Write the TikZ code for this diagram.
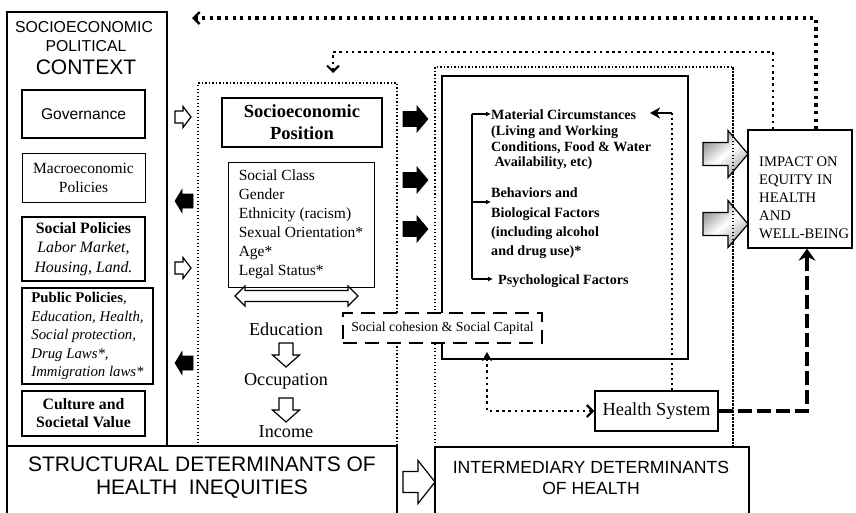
\documentclass[tikz,border=0pt]{standalone}
\usepackage{fontspec}
\setmainfont{Liberation Serif}
\setsansfont{Liberation Sans}
\usetikzlibrary{arrows.meta}

% font size helper
\newcommand\fsz[2]{\fontsize{#1}{#2}\selectfont}
% horizontal block arrow: style, tail x, y, neck x, tip x, half body, half head
\newcommand\blockH[7]{\draw[#1] (#2,#3-#6) -- (#4,#3-#6) -- (#4,#3-#7) -- (#5,#3) -- (#4,#3+#7) -- (#4,#3+#6) -- (#2,#3+#6) -- cycle;}
% vertical block arrow: style, x, tail y, neck y, tip y, half body, half head
\newcommand\blockV[7]{\draw[#1] (#2-#6,#3) -- (#2-#6,#4) -- (#2-#7,#4) -- (#2,#5) -- (#2+#7,#4) -- (#2+#6,#4) -- (#2+#6,#3) -- cycle;}

\begin{document}
\begin{tikzpicture}[x=1pt,y=-1pt,
  every node/.style={inner sep=0pt},
  thinbox/.style={draw,line width=1pt},
  medbox/.style={draw,line width=1.3pt},
  thickbox/.style={draw,line width=1.8pt},
  thindot/.style={draw,line width=1.3pt,dash pattern=on 1.3pt off 2.2pt},
  middot/.style={line width=2.6pt,dash pattern=on 2.6pt off 3.6pt},
  bigdot/.style={line width=3.2pt,dash pattern=on 3.2pt off 4.4pt},
  heavydash/.style={line width=3.6pt,dash pattern=on 14pt off 5pt},
  openarr/.style={draw,fill=white,line width=1.2pt,line join=miter},
  solidarr/.style={draw,fill=black,line width=0.6pt,line join=miter},
  grayarr/.style={draw,line width=1.2pt,line join=miter,top color=gray!85,bottom color=gray!70,middle color=white,shading angle=40},
  serif/.style={font=\fsz{15.5}{19}},
]
\useasboundingbox (0,0) rectangle (856,512);

% ---------- structural side ----------
\node[medbox,minimum width=160pt,minimum height=434pt] (ctx) at (87,229) {};
\node[font=\sffamily\fsz{15.8}{19}] (ctxa) at (84,27) {SOCIOECONOMIC};
\node[font=\sffamily\fsz{15.8}{19}] (ctxb) at (86,46) {POLITICAL};
\node[font=\sffamily\fsz{21}{23}] (ctxc) at (86,67) {CONTEXT};

\node[thickbox,minimum width=123pt,minimum height=48pt,font=\sffamily\fsz{15.6}{19}] (gov) at (83.5,114) {Governance};
\node[thinbox,minimum width=123pt,minimum height=49pt,align=center,serif] (macro) at (83.5,177.5) {Macroeconomic\\Policies};
\node[thickbox,minimum width=123pt,minimum height=64pt,align=center,font=\fsz{15.8}{19.5}] (socpol) at (83.5,249) {\textbf{Social Policies}\\\textit{Labor Market,}\\\textit{Housing, Land.}};
\node[medbox,minimum width=131pt,minimum height=96pt,align=left,font=\fsz{14.8}{18.5}] (pubpol) at (87.5,336) {\textbf{Public Policies},\\\textit{Education, Health,}\\\textit{Social protection,}\\\textit{Drug Laws*,}\\\textit{Immigration laws*}};
\node[medbox,minimum width=123pt,minimum height=45pt,align=center,font=\bfseries\fsz{15.8}{18}] (culture) at (83.5,413.5) {Culture and\\Societal Value};

% socioeconomic position column
\node[thindot,minimum width=199pt,minimum height=363pt] (posarea) at (297.5,264.5) {};
\node[thickbox,minimum width=160pt,minimum height=49pt,align=center,font=\bfseries\fsz{18.5}{22}] (sep) at (302,122.5) {Socioeconomic\\Position};
\node[thinbox,minimum width=146pt,minimum height=125pt,align=left,serif] (cls) at (301,224.5) {Social Class\\Gender\\Ethnicity (racism)\\Sexual Orientation*\\Age*\\Legal Status*};
\draw[openarr] (235,296) -- (245,286) -- (245,290.5) -- (348,290.5) -- (348,286) -- (358,296) -- (348,306) -- (348,301.5) -- (245,301.5) -- (245,306) -- cycle;
\node[font=\fsz{18.2}{20}] (edu) at (286,329) {Education};
\node[font=\fsz{18.2}{20}] (occ) at (286,381) {Occupation};
\node[font=\fsz{18.2}{20}] (inc) at (286,432) {Income};
\blockV{openarr}{286}{343}{355}{367}{7}{13.5}
\blockV{openarr}{286}{398}{410}{422}{7}{13.5}

\node[draw,line width=1.6pt,minimum width=390pt,minimum height=70pt] (struct) at (202,481) {};
\node[align=center,font=\sffamily\fsz{21}{23}] (structtxt) at (202,478) {STRUCTURAL DETERMINANTS OF\\HEALTH\ \ INEQUITIES};

% arrows between context and position
\blockH{openarr}{175}{117}{183}{191}{6}{10.5}
\blockH{solidarr}{193}{201}{182}{175}{7}{11.5}
\blockH{openarr}{175}{268}{183}{191}{6}{10.5}
\blockH{solidarr}{193}{363}{182}{175}{7}{11.5}

% ---------- intermediary side ----------
\node[thindot,minimum width=298pt,minimum height=380pt] (midarea) at (584,257) {};
\node[draw,line width=1.5pt,minimum width=246pt,minimum height=283pt] (matbox) at (565,217.5) {};

\node[anchor=north west,align=left,font=\bfseries\fsz{14.1}{15.8}] (mat) at (491,109.5) {Material Circumstances\\(Living and Working\\Conditions, Food \& Water\\\ Availability, etc)};
\node[anchor=north west,align=left,font=\bfseries\fsz{14.1}{19.2}] (beh) at (491,188) {Behaviors and\\Biological Factors\\(including alcohol\\and drug use)*};
\node[anchor=base west,font=\bfseries\fsz{14.1}{16}] (psy) at (498,284.6) {Psychological Factors};

\coordinate (brtop) at (472,114);
\coordinate (brbot) at (472,279);
\draw[line width=1.3pt] (brtop) -- (brbot);
\draw[line width=1.1pt,-{Latex[length=5pt,width=5pt]}] (brtop) -- (mat.west |- brtop);
\draw[line width=1.1pt,-{Latex[length=5pt,width=5pt]}] (472,202) -- (beh.west |- 0,202);
\draw[line width=1.1pt,-{Latex[length=5pt,width=5pt]}] (brbot) -- ([xshift=-5pt]psy.west |- brbot);

\node[draw,fill=white,line width=2.3pt,dash pattern=on 14pt off 8pt,minimum width=199pt,minimum height=30pt,font=\fsz{13.8}{16}] (coh) at (442.5,328) {Social cohesion \& Social Capital};

\node[medbox,minimum width=123pt,minimum height=40pt,font=\fsz{18.4}{20}] (hs) at (656.5,411) {Health System};

\node[medbox,minimum width=104pt,minimum height=118pt] (impact) at (800,189) {};
\node[anchor=north west,align=left,font=\fsz{14.6}{18}] (impacttxt) at (759,157) {IMPACT ON\\EQUITY IN\\HEALTH\\AND\\WELL-BEING};

\node[draw,line width=1.6pt,minimum width=314pt,minimum height=70pt] (interm) at (592,482) {};
\node[align=center,font=\sffamily\fsz{17.6}{21}] (intermtxt) at (591,477.5) {INTERMEDIARY DETERMINANTS\\OF HEALTH};

% block arrows into the intermediary determinants
\blockH{solidarr}{403}{119}{417}{428}{7.5}{13}
\blockH{solidarr}{403}{180}{417}{428}{7.5}{13}
\blockH{solidarr}{403}{229}{417}{428}{7.5}{13}
\blockH{openarr}{403}{482}{418}{435}{10.5}{21.5}
\blockH{grayarr}{703}{154}{728}{748}{11.5}{23.5}
\blockH{grayarr}{703}{224}{728}{748}{11.5}{23.5}
\draw[thindot] (733,67) -- (733,447);

% ---------- feedback and system connectors ----------
\coordinate (backtip) at (192,18);
\draw[bigdot,-{Straight Barb[length=6pt,width=12pt,line width=2.4pt]}] ([xshift=16pt]impact.north) |- (backtip);
\coordinate (posbend) at (333,52);
\coordinate (postip) at (333,73);
\draw[middot,-{Straight Barb[length=6pt,width=12pt,line width=2pt]}] ([xshift=-27pt]impact.north) |- (posbend) -- (postip);

\coordinate (matbend) at (672,113);
\coordinate (mattip) at (650,113);
\draw[line width=2pt,dash pattern=on 2pt off 3pt] ([xshift=15.5pt]hs.north) -- (matbend);
\draw[line width=2pt,-{Stealth[length=10pt,width=11pt,inset=3pt]}] (matbend) -- (mattip);

\coordinate (cohtip) at (487,352);
\draw[middot,{Stealth[length=9pt,width=10pt,inset=2.5pt]}-{Straight Barb[length=6pt,width=12pt,line width=2.2pt]}] (cohtip) |- (hs.west);

\draw[heavydash,-{Stealth[length=12pt,width=17pt,inset=4pt]}] (hs.east) -| ([xshift=7pt]impact.south);
\end{tikzpicture}
\end{document}
